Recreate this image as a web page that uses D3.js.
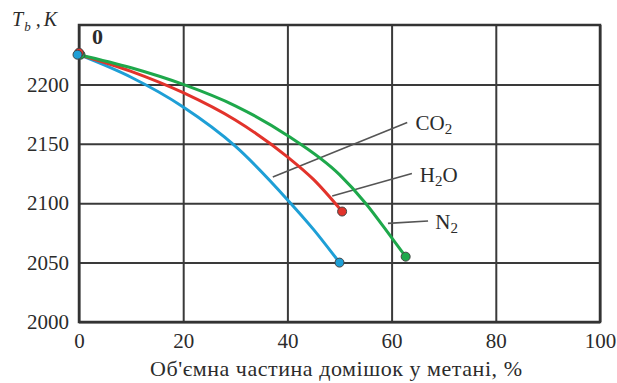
<!DOCTYPE html>
<html>
<head>
<meta charset="utf-8">
<script src="https://cdn.jsdelivr.net/npm/d3@7"></script>
<style>
  body { margin: 0; background: #fff; }
  svg text { font-family: "Liberation Serif", "Times New Roman", "DejaVu Serif", serif !important; fill: #2b2b2b; }
</style>
</head>
<body>
<script>
var width = 617;
var height = 383;
var serif = '"Liberation Serif", "Times New Roman", "DejaVu Serif", serif';

// data: [share %, T_b K]
var co2 = [[0, 2225], [10, 2206], [20, 2181], [30, 2148], [40, 2103], [45, 2078], [50, 2050]];
var h2o = [[0, 2225], [10, 2211], [20, 2193], [30, 2170], [40, 2139], [45, 2120], [50.5, 2093]];
var n2  = [[0, 2225], [10, 2214], [20, 2200], [30, 2182], [40, 2157], [50, 2124], [55, 2100], [60, 2071], [62.7, 2055]];

var xTicks = [0, 20, 40, 60, 80, 100];
var yTicks = [2000, 2050, 2100, 2150, 2200];

// leader lines: [from, to, label position] in data units
var labels = [
  { name: 'CO', sub: '2', from: [37.2, 2122], to: [63, 2168], at: [64.6, 2162] },
  { name: 'H', sub: '2', tail: 'O', from: [48.6, 2106], to: [63.9, 2125], at: [65.4, 2118] },
  { name: 'N', sub: '2', from: [59.3, 2083], to: [67, 2085], at: [68.4, 2078] }
];

var series = [
  { data: co2, color: '#1e9fd6' },
  { data: h2o, color: '#e2332b' },
  { data: n2, color: '#1ea84b' }
];

var svg = d3.select('body').append('svg')
    .attr('width', width)
    .attr('height', height);

var x = d3.scaleLinear().domain([0, 100]).range([79, 600]);
var y = d3.scaleLinear().domain([2000, 2250]).range([322, 25]);

var plotW = x(100) - x(0);
var plotH = y(2000) - y(2250);

// grid + tick labels
var xAxis = svg.append('g')
    .attr('transform', 'translate(0,' + y(2000) + ')')
    .call(d3.axisBottom(x).tickValues(xTicks).tickSize(-plotH).tickPadding(11));
var yAxis = svg.append('g')
    .attr('transform', 'translate(' + x(0) + ',0)')
    .call(d3.axisLeft(y).tickValues(yTicks).tickSize(-plotW).tickPadding(10).tickFormat(d3.format('d')));

[xAxis, yAxis].forEach(function(a) {
  a.attr('font-family', serif).attr('font-size', 21);
  a.select('.domain').remove();
  a.selectAll('line').attr('stroke', '#3a3a3a').attr('stroke-width', 2);
  a.selectAll('text').attr('fill', '#2b2b2b');
});

// frame
svg.append('rect')
    .attr('x', x(0)).attr('y', y(2250))
    .attr('width', plotW).attr('height', plotH)
    .attr('fill', 'none').attr('stroke', '#333').attr('stroke-width', 2.5);

// leader lines
svg.selectAll('.leader')
  .data(labels)
  .enter().append('line')
    .attr('class', 'leader')
    .attr('x1', function(d) { return x(d.from[0]); })
    .attr('y1', function(d) { return y(d.from[1]); })
    .attr('x2', function(d) { return x(d.to[0]); })
    .attr('y2', function(d) { return y(d.to[1]); })
    .attr('stroke', '#555')
    .attr('stroke-width', 1.6);

var line = d3.line()
    .x(function(d) { return x(d[0]); })
    .y(function(d) { return y(d[1]); })
    .curve(d3.curveMonotoneX);

svg.selectAll('.curve')
  .data(series)
  .enter().append('path')
    .attr('class', 'curve')
    .attr('d', function(d) { return line(d.data); })
    .attr('fill', 'none')
    .attr('stroke', function(d) { return d.color; })
    .attr('stroke-width', 3);

// end points
svg.selectAll('.end')
  .data(series)
  .enter().append('circle')
    .attr('class', 'end')
    .attr('cx', function(d) { return x(d.data[d.data.length - 1][0]); })
    .attr('cy', function(d) { return y(d.data[d.data.length - 1][1]); })
    .attr('r', 4.5)
    .attr('fill', function(d) { return d.color; })
    .attr('stroke', '#444')
    .attr('stroke-width', 1);

// start points, slightly stacked like the original
var startOff = [-1.5, 0, 1.5];
svg.selectAll('.start')
  .data(series.slice().reverse())
  .enter().append('circle')
    .attr('class', 'start')
    .attr('cx', function(d, i) { return x(d.data[0][0]) + startOff[2 - i]; })
    .attr('cy', function(d, i) { return y(d.data[0][1]) + (i === 1 ? -2 : 0); })
    .attr('r', 4.5)
    .attr('fill', function(d) { return d.color; })
    .attr('stroke', '#444')
    .attr('stroke-width', 1);

// curve labels
var lab = svg.selectAll('.lab')
  .data(labels)
  .enter().append('text')
    .attr('class', 'lab')
    .attr('x', function(d) { return x(d.at[0]); })
    .attr('y', function(d) { return y(d.at[1]); })
    .attr('font-family', serif)
    .attr('font-size', 21);
lab.append('tspan').text(function(d) { return d.name; });
lab.append('tspan').attr('font-size', 15).attr('dy', 4).text(function(d) { return d.sub; });
lab.append('tspan').attr('dy', -4).text(function(d) { return d.tail || ''; });

// origin mark
svg.append('text')
    .attr('x', x(0) + 13).attr('y', y(2234))
    .attr('font-family', serif)
    .attr('font-size', 22).attr('font-weight', 'bold')
    .text('0');

// y title
var yt = svg.append('text')
    .attr('x', 12).attr('y', 26)
    .attr('font-family', serif)
    .attr('font-size', 20).attr('font-style', 'italic');
yt.append('tspan').text('T');
yt.append('tspan').attr('font-size', 13).attr('dy', 5).attr('dx', 1).text('b');
yt.append('tspan').attr('dy', -5).attr('dx', 5).text(',');
yt.append('tspan').attr('dx', 3).text('K');

// x title
svg.append('text')
    .attr('x', 150).attr('y', 376)
    .attr('font-family', serif)
    .attr('font-size', 22)
    .attr('textLength', 372)
    .attr('lengthAdjust', 'spacing')
    .text("Об'ємна частина домішок у метані, %");
</script>
</body>
</html>
